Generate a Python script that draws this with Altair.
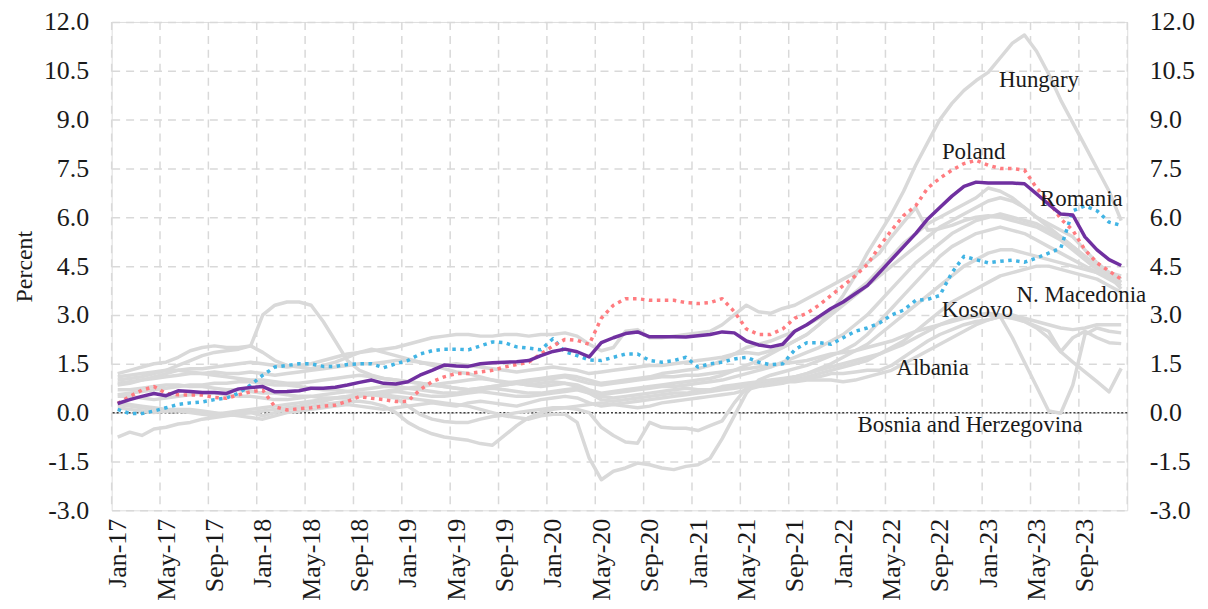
import altair as alt
import pandas as pd

# ---------------- data (month index 0 = Jan-17 ... 83 = Dec-23) ----------------
average = [
    0.28, 0.40, 0.50, 0.59, 0.52, 0.67, 0.65, 0.62, 0.62, 0.59, 0.73, 0.77,
    0.80, 0.64, 0.65, 0.67, 0.75, 0.75, 0.78, 0.85, 0.93, 1.00, 0.90, 0.88,
    0.95, 1.15, 1.30, 1.46, 1.43, 1.42, 1.50, 1.53, 1.55, 1.56, 1.60, 1.75,
    1.88, 1.95, 1.87, 1.71, 2.15, 2.30, 2.43, 2.48, 2.33, 2.33, 2.33, 2.32,
    2.36, 2.40, 2.48, 2.45, 2.20, 2.08, 2.02, 2.10, 2.50, 2.70, 2.95, 3.20,
    3.40, 3.65, 3.90, 4.30, 4.70, 5.10, 5.50, 5.95, 6.30, 6.65, 6.95, 7.08,
    7.05, 7.05, 7.05, 7.03, 6.72, 6.40, 6.10, 6.07, 5.40, 5.00, 4.70, 4.52,
]
poland = [
    0.28, 0.50, 0.69, 0.80, 0.59, 0.55, 0.54, 0.54, 0.47, 0.44, 0.55, 0.64,
    0.69, 0.18, 0.08, 0.12, 0.15, 0.20, 0.23, 0.35, 0.49, 0.44, 0.40, 0.34,
    0.35, 0.70, 0.95, 1.10, 1.20, 1.20, 1.25, 1.30, 1.40, 1.48, 1.55, 1.80,
    2.05, 2.25, 2.22, 2.10, 2.90, 3.30, 3.50, 3.50, 3.45, 3.45, 3.45, 3.38,
    3.35, 3.38, 3.50, 3.10, 2.57, 2.40, 2.40, 2.57, 2.90, 3.05, 3.30, 3.60,
    3.90, 4.20, 4.55, 5.10, 5.60, 6.05, 6.35, 6.90, 7.20, 7.45, 7.65, 7.75,
    7.60, 7.50, 7.50, 7.45, 6.90, 6.50, 5.95, 5.60, 5.00, 4.60, 4.35, 4.10,
]
romania = [
    0.10, -0.03, -0.03, 0.05, 0.15, 0.25, 0.30, 0.33, 0.40, 0.45, 0.60, 0.85,
    1.15, 1.40, 1.45, 1.50, 1.50, 1.42, 1.42, 1.48, 1.50, 1.50, 1.38, 1.50,
    1.60, 1.80, 1.90, 1.95, 1.95, 1.93, 2.05, 2.17, 2.15, 2.02, 1.98, 1.93,
    2.27, 1.87, 1.75, 1.62, 1.60, 1.70, 1.80, 1.80, 1.60, 1.55, 1.60, 1.70,
    1.40, 1.50, 1.55, 1.65, 1.70, 1.55, 1.47, 1.50, 1.93, 2.15, 2.15, 2.10,
    2.30, 2.50, 2.60, 2.75, 3.00, 3.15, 3.45, 3.48, 3.60, 4.30, 4.80, 4.70,
    4.60, 4.65, 4.68, 4.62, 4.75, 4.90, 5.05, 6.20, 6.35, 6.20, 5.85, 5.75,
]
hungary = [
    0.90, 0.95, 1.00, 1.05, 1.10, 1.15, 1.20, 1.20, 1.25, 1.20, 1.20, 1.25,
    1.20, 1.15, 1.20, 1.25, 1.30, 1.35, 1.40, 1.45, 1.50, 1.50, 1.55, 1.60,
    1.60, 1.55, 1.50, 1.45, 1.50, 1.45, 1.40, 1.35, 1.30, 1.25, 1.30, 1.35,
    1.40, 1.35, 1.30, 1.20, 1.25, 1.30, 1.35, 1.40, 1.45, 1.45, 1.50, 1.55,
    1.60, 1.65, 1.70, 1.80, 1.85, 1.80, 1.90, 2.00, 2.20, 2.40, 2.70, 3.10,
    3.60, 4.20, 4.90, 5.50, 6.10, 6.80, 7.60, 8.30, 9.00, 9.50, 9.90, 10.20,
    10.45, 10.90, 11.35, 11.60, 11.10, 10.40, 9.60, 8.90, 8.20, 7.50, 6.80, 5.90,
]
gray_b = [
    1.00, 1.05, 1.10, 1.20, 1.30, 1.45, 1.60, 1.75, 1.85, 1.90, 1.95, 2.05,
    3.00, 3.30, 3.40, 3.40, 3.30, 2.80, 2.20, 1.60, 1.30, 1.15, 1.05, 1.00,
    0.95, 0.90, 0.85, 0.90, 0.95, 1.00, 1.05, 1.00, 0.95, 0.90, 0.85, 0.90,
    0.95, 0.90, 0.85, 0.70, 0.60, 0.65, 0.70, 0.75, 0.80, 0.85, 0.90, 0.95,
    1.00, 1.05, 1.15, 1.30, 1.45, 1.60, 1.80, 2.00, 2.20, 2.40, 2.70, 3.00,
    3.30, 3.60, 3.90, 4.20, 4.50, 4.80, 5.10, 5.40, 5.70, 5.90, 6.10, 6.30,
    6.50, 6.60, 6.50, 6.30, 6.00, 5.70, 5.40, 5.10, 4.80, 4.50, 4.30, 4.10,
]
gray_c = [
    1.20, 1.30, 1.40, 1.50, 1.55, 1.70, 1.90, 2.00, 2.05, 2.00, 2.00, 2.05,
    1.85, 1.60, 1.45, 1.40, 1.35, 1.45, 1.55, 1.70, 1.85, 1.95, 1.85, 1.75,
    1.65, 1.55, 1.45, 1.35, 1.25, 1.20, 1.10, 1.00, 0.90, 0.95, 1.00, 1.05,
    1.10, 1.15, 1.10, 1.00, 0.90, 0.95, 1.00, 1.05, 1.10, 1.20, 1.25, 1.30,
    1.35, 1.45, 1.60, 1.80, 2.00, 2.10, 2.20, 2.35, 2.50, 2.70, 2.90, 3.10,
    3.40, 3.70, 4.00, 4.40, 4.80, 5.20, 5.50, 5.80, 6.00, 6.20, 6.40, 6.60,
    6.90, 6.80, 6.60, 6.30, 6.00, 5.80, 5.60, 5.40, 5.00, 4.60, 4.30, 4.20,
]
gray_d = [
    -0.75, -0.60, -0.70, -0.50, -0.45, -0.35, -0.30, -0.20, -0.15, -0.10, -0.05, 0.00,
    0.05, 0.10, 0.15, 0.20, 0.30, 0.35, 0.45, 0.50, 0.55, 0.60, 0.65, 0.70,
    0.75, 0.80, 0.85, 0.80, 0.75, 0.70, 0.75, 0.80, 0.85, 0.90, 0.85, 0.80,
    0.85, 0.90, 0.80, 0.65, 0.55, 0.60, 0.65, 0.70, 0.75, 0.80, 0.80, 0.85,
    0.90, 0.95, 1.00, 1.10, 1.20, 1.30, 1.40, 1.55, 1.70, 1.85, 2.00, 2.20,
    2.40, 2.70, 3.00, 3.40, 3.80, 4.20, 4.60, 4.90, 5.20, 5.50, 5.70, 5.90,
    6.00, 6.10, 6.00, 5.90, 5.80, 5.60, 5.40, 5.10, 4.80, 4.50, 4.20, 3.80,
]
gray_e = [
    0.55, 0.60, 0.65, 0.70, 0.75, 0.80, 0.85, 0.85, 0.90, 0.90, 0.95, 0.95,
    0.90, 0.85, 0.85, 0.80, 0.75, 0.70, 0.70, 0.65, 0.60, 0.60, 0.55, 0.50,
    0.45, 0.40, 0.35, 0.30, 0.25, 0.20, 0.10, 0.00, -0.10, -0.15, -0.20, -0.10,
    -0.05, -0.05, -0.30, -1.40, -2.06, -1.80, -1.70, -1.55, -1.60, -1.70, -1.75, -1.65,
    -1.60, -1.40, -0.80, -0.10, 0.60, 1.00, 1.15, 1.25, 1.35, 1.45, 1.60, 1.75,
    1.90, 2.10, 2.40, 2.80, 3.20, 3.60, 4.00, 4.40, 4.80, 5.10, 5.30, 5.50,
    5.60, 5.70, 5.60, 5.50, 5.30, 5.10, 4.90, 4.70, 4.50, 4.30, 4.10, 3.90,
]
gray_f = [
    0.30, 0.25, 0.20, 0.15, 0.10, 0.10, 0.05, 0.00, -0.05, 0.00, 0.05, 0.10,
    0.15, 0.20, 0.25, 0.30, 0.35, 0.40, 0.45, 0.45, 0.50, 0.55, 0.50, 0.45,
    0.20, -0.05, -0.20, -0.27, -0.30, -0.30, -0.20, -0.12, -0.07, 0.00, 0.05, 0.10,
    0.15, 0.15, 0.10, 0.00, -0.45, -0.70, -0.90, -0.94, -0.30, -0.45, -0.48, -0.48,
    -0.55, -0.40, -0.25, 0.30, 0.75, 0.85, 0.90, 1.00, 1.10, 1.20, 1.35, 1.50,
    1.70, 1.90, 2.10, 2.40, 2.70, 3.00, 3.30, 3.60, 3.90, 4.20, 4.50, 4.70,
    4.90, 5.00, 5.00, 4.90, 4.80, 4.70, 4.60, 4.50, 4.40, 4.30, 4.15, 4.00,
]
gray_g = [
    0.25, 0.20, 0.15, 0.10, 0.05, 0.05, 0.00, -0.05, -0.10, -0.05, 0.00, 0.00,
    -0.10, 0.00, 0.10, 0.15, 0.20, 0.25, 0.30, 0.35, 0.35, 0.30, 0.20, 0.00,
    -0.30, -0.50, -0.65, -0.75, -0.80, -0.85, -0.95, -1.00, -0.70, -0.40, -0.15, 0.00,
    0.10, 0.15, 0.20, 0.25, 0.30, 0.25, 0.20, 0.15, 0.20, 0.30, 0.35, 0.40,
    0.45, 0.50, 0.55, 0.60, 0.70, 0.80, 0.85, 0.90, 1.00, 1.10, 1.20, 1.30,
    1.40, 1.50, 1.60, 1.80, 2.00, 2.20, 2.50, 2.80, 3.10, 3.40, 3.60, 3.80,
    4.00, 4.20, 4.30, 4.40, 4.50, 4.50, 4.40, 4.30, 4.20, 4.10, 3.90, 3.70,
]
albania = [
    0.70, 0.70, 0.75, 0.80, 0.85, 0.85, 0.80, 0.80, 0.75, 0.70, 0.70, 0.65,
    0.60, 0.60, 0.55, 0.50, 0.50, 0.45, 0.45, 0.50, 0.55, 0.60, 0.60, 0.65,
    0.60, 0.55, 0.50, 0.50, 0.55, 0.60, 0.65, 0.60, 0.55, 0.50, 0.50, 0.55,
    0.60, 0.65, 0.70, 0.60, 0.50, 0.45, 0.50, 0.55, 0.60, 0.65, 0.70, 0.75,
    0.70, 0.70, 0.75, 0.80, 0.85, 0.90, 0.90, 0.95, 1.00, 1.05, 1.10, 1.20,
    1.20, 1.25, 1.30, 1.30, 1.45, 1.70, 1.95, 2.20, 2.40, 2.55, 2.70, 2.80,
    2.85, 2.95, 2.30, 1.55, 0.80, 0.05, -0.02, 0.85, 2.40, 2.60, 2.50, 2.45,
]
bosnia = [
    0.50, 0.50, 0.45, 0.40, 0.45, 0.50, 0.55, 0.60, 0.60, 0.55, 0.50, 0.50,
    0.45, 0.40, 0.40, 0.45, 0.50, 0.55, 0.60, 0.65, 0.70, 0.75, 0.80, 0.80,
    0.75, 0.70, 0.65, 0.60, 0.60, 0.65, 0.70, 0.75, 0.70, 0.65, 0.60, 0.60,
    0.65, 0.70, 0.75, 0.60, 0.40, 0.35, 0.40, 0.45, 0.50, 0.55, 0.60, 0.60,
    0.65, 0.70, 0.80, 0.85, 0.90, 0.95, 1.00, 1.05, 1.10, 1.20, 1.30, 1.40,
    1.50, 1.60, 1.70, 1.80, 1.95, 2.10, 2.30, 2.50, 2.70, 2.85, 2.95, 3.00,
    3.05, 3.00, 2.95, 2.80, 2.65, 2.50, 1.87, 1.55, 1.25, 0.95, 0.64, 1.36,
]
macedonia = [
    0.85, 0.90, 1.00, 1.10, 1.20, 1.30, 1.35, 1.35, 1.40, 1.45, 1.50, 1.55,
    1.50, 1.45, 1.40, 1.45, 1.50, 1.60, 1.70, 1.80, 1.85, 1.90, 1.95, 2.00,
    2.10, 2.20, 2.30, 2.35, 2.40, 2.40, 2.35, 2.35, 2.40, 2.40, 2.35, 2.40,
    2.40, 2.45, 2.35, 2.10, 1.90, 2.00, 2.50, 2.55, 2.30, 2.30, 2.35, 2.40,
    2.45, 2.50, 2.70, 3.00, 3.30, 3.10, 3.05, 3.20, 3.30, 3.50, 3.70, 3.90,
    4.10, 4.30, 4.60, 4.90, 5.40, 5.85, 6.30, 5.60, 5.65, 5.75, 5.90, 6.00,
    6.05, 6.00, 5.90, 5.80, 5.70, 5.50, 5.30, 5.00, 4.70, 4.40, 4.20, 4.00,
]
kosovo = [
    1.10, 1.15, 1.20, 1.25, 1.30, 1.30, 1.25, 1.20, 1.15, 1.10, 1.05, 1.00,
    1.00, 0.95, 0.90, 0.90, 0.95, 1.00, 1.05, 1.10, 1.15, 1.10, 1.05, 1.00,
    0.95, 0.90, 0.85, 0.80, 0.75, 0.70, 0.75, 0.80, 0.85, 0.90, 0.95, 1.00,
    1.05, 1.10, 1.00, 0.90, 0.85, 0.90, 0.95, 1.00, 1.05, 1.10, 1.10, 1.15,
    1.15, 1.20, 1.25, 1.30, 1.35, 1.40, 1.45, 1.50, 1.55, 1.60, 1.70, 1.80,
    1.85, 1.90, 2.00, 2.10, 2.20, 2.35, 2.50, 2.60, 2.70, 2.80, 2.90, 2.95,
    3.00, 2.95, 2.90, 2.80, 2.60, 2.30, 1.87, 2.30, 2.50, 2.30, 2.15, 2.12,
]
gray_l = [
    0.15, 0.10, 0.05, 0.00, 0.05, 0.10, 0.10, 0.05, 0.00, -0.05, -0.10, -0.15,
    -0.20, -0.10, 0.00, 0.05, 0.10, 0.15, 0.20, 0.25, 0.20, 0.15, 0.10, 0.15,
    0.20, 0.25, 0.30, 0.25, 0.20, 0.30, 0.35, 0.30, 0.25, 0.20, 0.30, 0.40,
    0.45, 0.50, 0.45, 0.30, 0.20, 0.25, 0.30, 0.35, 0.40, 0.45, 0.50, 0.55,
    0.60, 0.65, 0.70, 0.75, 0.80, 0.85, 0.90, 0.95, 0.95, 1.00, 1.00, 1.00,
    0.95, 1.00, 1.10, 1.20, 1.30, 1.50, 1.70, 1.90, 2.10, 2.30, 2.50, 2.70,
    2.85, 2.95, 3.00, 2.90, 2.80, 2.70, 2.60, 2.55, 2.60, 2.70, 2.70, 2.70,
]

gray_series = {
    "Hungary": hungary, "B": gray_b, "C": gray_c, "D": gray_d, "E": gray_e,
    "F": gray_f, "G": gray_g, "Albania": albania, "Bosnia and Herzegovina": bosnia,
    "N. Macedonia": macedonia, "Kosovo": kosovo, "L": gray_l,
}

grid_months = list(range(0, 85, 4))
label_months = [m + 0.5 for m in range(0, 84, 4)]
y_ticks = [-3.0, -1.5, 0.0, 1.5, 3.0, 4.5, 6.0, 7.5, 9.0, 10.5, 12.0]

label_names = ["Hungary", "Poland", "Romania", "N. Macedonia", "Kosovo", "Albania",
               "Bosnia and Herzegovina"]
label_x = [76.7, 71.3, 80.2, 80.2, 71.6, 67.9, 71.0]
label_y = [10.22, 7.99, 6.55, 3.61, 3.15, 1.38, -0.37]

# ---------------- tables ----------------
def frame(name, vals):
    return pd.DataFrame({"x": [i + 0.5 for i in range(len(vals))], "y": vals, "series": name})

gray_df = pd.concat([frame(k, v) for k, v in gray_series.items()], ignore_index=True)
avg_df = frame("Average", average)
pol_df = frame("Poland", poland)
rom_df = frame("Romania", romania)
grid_df = pd.DataFrame({"x": grid_months})
zero_df = pd.DataFrame({"y": [0.0]})
lab_df = pd.DataFrame({"x": label_x, "y": label_y, "text": label_names})

FONT = "Liberation Serif"
TXT = "#1a1a1a"
xscale = alt.Scale(domain=[0, 84], nice=False, zero=False)
yscale = alt.Scale(domain=[-3, 12], nice=False, zero=False)
ylabel_expr = "(datum.value < 0 ? '-' : '') + format(abs(datum.value), '.1f')"

xaxis = alt.Axis(
    values=label_months, grid=False, ticks=False, domain=False,
    labelExpr="['Jan','May','Sep'][floor(datum.value/4)%3] + '-' + (17 + floor(datum.value/12))",
    labelAngle=-90, labelAlign="right", labelBaseline="middle", labelPadding=8,
    labelFontSize=26, labelFont=FONT, labelColor=TXT, title=None,
)
X = alt.X("x:Q", scale=xscale, axis=xaxis)

yaxis_left = alt.Axis(
    values=y_ticks, labelExpr=ylabel_expr, grid=True, gridColor="#d9d9d9", gridDash=[8, 6],
    gridWidth=1.5, ticks=False, domain=False, labelPadding=23, labelFontSize=26,
    labelFont=FONT, labelColor=TXT, title="Percent", titleFont=FONT,
    titleFontSize=24, titleFontWeight="normal", titleColor=TXT, titlePadding=7,
)
yaxis_right = alt.Axis(
    values=y_ticks, labelExpr=ylabel_expr, grid=False, ticks=False, domain=False,
    orient="right", labelPadding=22, labelFontSize=26, labelFont=FONT, labelColor=TXT,
    title=None,
)

vgrid = alt.Chart(grid_df).mark_rule(color="#d9d9d9", strokeWidth=1.5, strokeDash=[8, 6]).encode(x=X)

gray = alt.Chart(gray_df).mark_line(color="#d9d9d9", strokeWidth=3.5, strokeJoin="round").encode(
    x=X, y=alt.Y("y:Q", scale=yscale, axis=yaxis_left), detail="series:N"
)

zero = alt.Chart(zero_df).mark_rule(color="#404040", strokeWidth=1.5, strokeDash=[2, 2]).encode(
    y=alt.Y("y:Q", scale=yscale, axis=yaxis_right)
)

def colored(df, color, dash=None):
    kw = dict(color=color, strokeWidth=3.5, strokeJoin="round")
    if dash:
        kw["strokeDash"] = dash
    return alt.Chart(df).mark_line(**kw).encode(x=X, y=alt.Y("y:Q", scale=yscale, axis=None))

rom = colored(rom_df, "#41b4e4", [3.5, 4.5])
pol = colored(pol_df, "#ff7c80", [3.5, 4.5])
avg = colored(avg_df, "#7030a0")

labels = alt.Chart(lab_df).mark_text(font=FONT, fontSize=23, color=TXT).encode(
    x=X, y=alt.Y("y:Q", scale=yscale, axis=None), text="text:N"
)

chart = (
    alt.layer(vgrid, zero, gray, rom, pol, avg, labels)
    .resolve_scale(y="independent")
    .properties(width=1019, height=490, padding={"left": 4, "top": 0, "right": 5, "bottom": 0})
    .configure_view(stroke="#8c8c8c", strokeWidth=1.5)
    .configure(background="white")
)

chart.save("out.html", embed_options={"renderer": "svg", "actions": False})
